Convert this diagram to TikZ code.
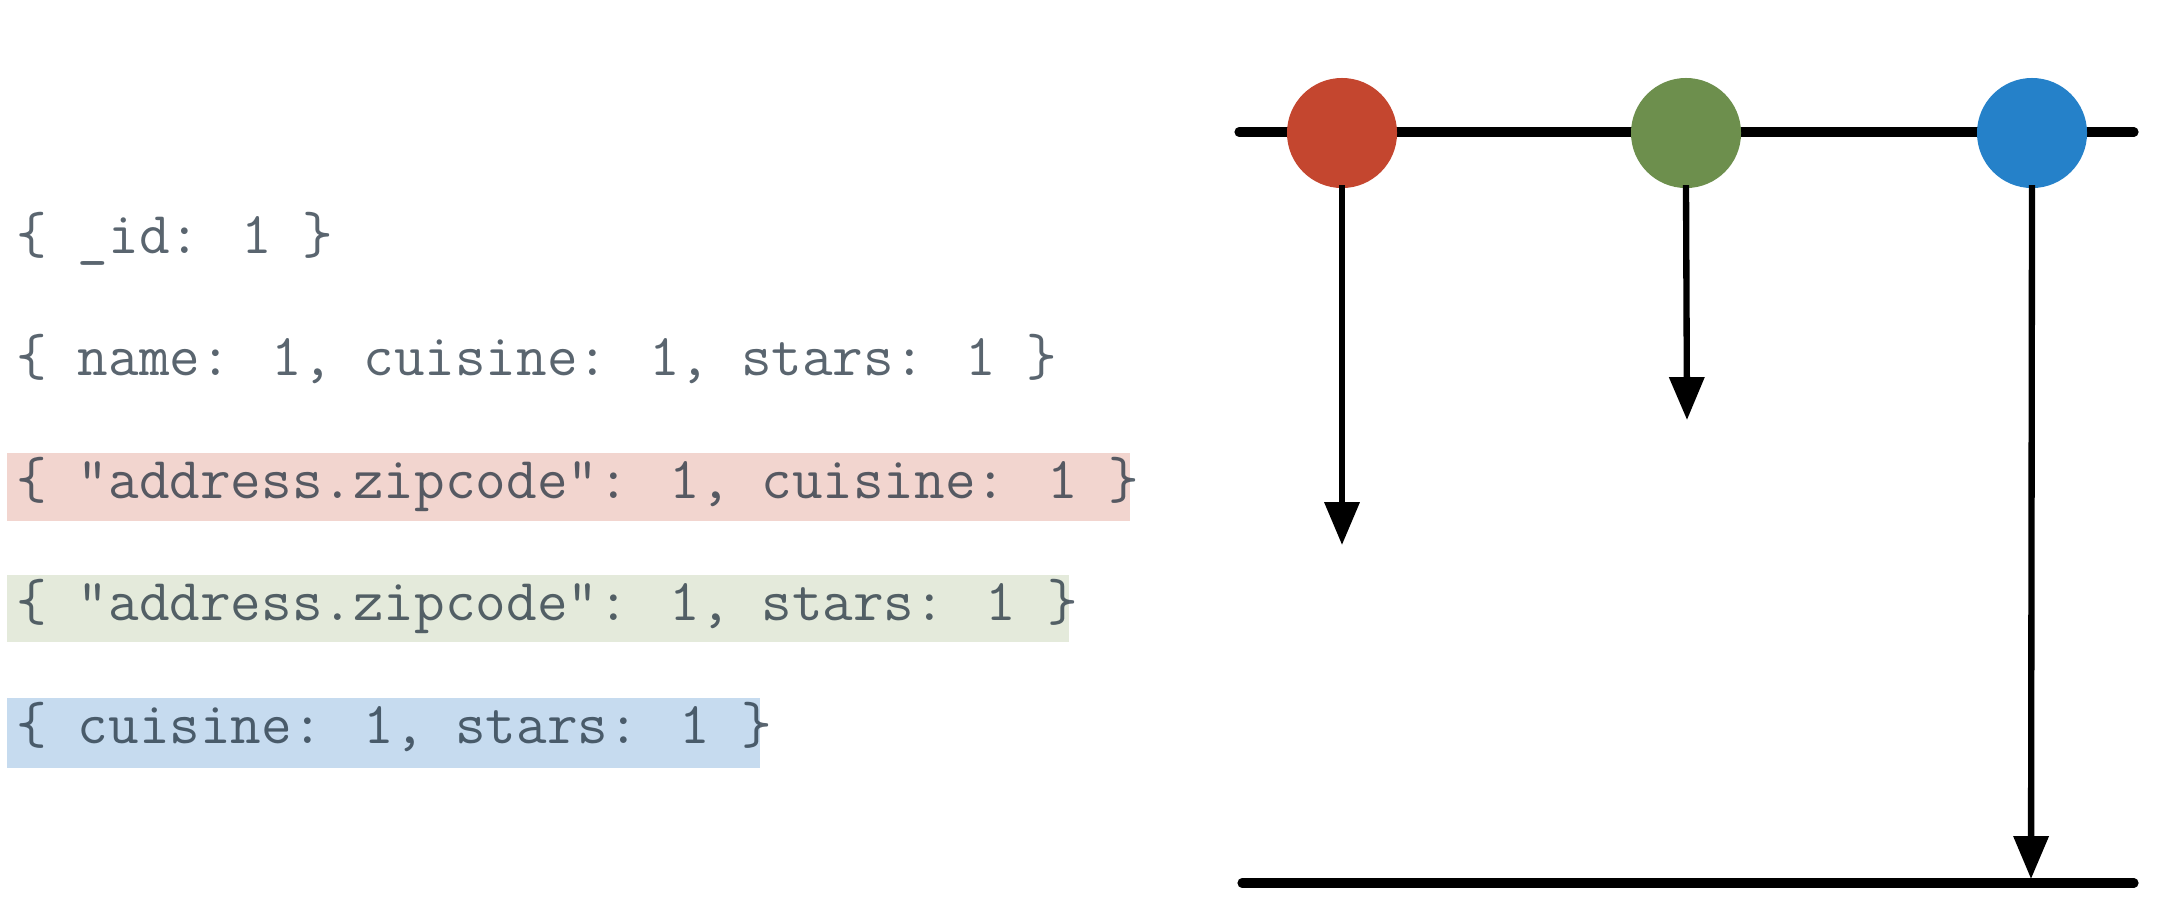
\documentclass[tikz,border=0pt]{standalone}
\usepackage{fontspec}
\usetikzlibrary{arrows.meta}
\definecolor{txtc}{HTML}{1A2A38}
\definecolor{boxred}{HTML}{F2D5CF}
\definecolor{boxgreen}{HTML}{E4EADB}
\definecolor{boxblue}{HTML}{C6DBEF}
\definecolor{cred}{HTML}{C4462F}
\definecolor{cgreen}{HTML}{6D8F4D}
\definecolor{cblue}{HTML}{2581C9}
\tikzset{
  code/.style={anchor=base west, inner sep=0pt, text=txtc, text opacity=0.72,
    font=\fontsize{16.9pt}{20pt}\selectfont\ttfamily},
  dot/.style={circle, minimum size=1.1cm, inner sep=0pt, draw=none},
  axis/.style={line width=2.6pt, line cap=round},
  drop/.style={line width=1.8pt, -{Triangle[length=12.2pt, width=9.7pt]}, shorten <=-1pt}
}
\begin{document}
\begin{tikzpicture}[x=0.01cm, y=-0.01cm]
\useasboundingbox (0,0) rectangle (2170,920);
% highlight boxes
\fill[boxred]   (7,453) rectangle (1130,521);
\fill[boxgreen] (7,575) rectangle (1069,642);
\fill[boxblue]  (7,698) rectangle (760,768);
% code lines
\node[code] (l1) at (16,253) {\{ \_id: 1 \}};
\node[code] (l2) at (16,375.5) {\{ name: 1, cuisine: 1, stars: 1 \}};
\node[code] (l3) at (16,498) {\{ "address.zipcode": 1, cuisine: 1 \}};
\node[code] (l4) at (16,620.5) {\{ "address.zipcode": 1, stars: 1 \}};
\node[code] (l5) at (16,743) {\{ cuisine: 1, stars: 1 \}};
% axes
\coordinate (tl) at (1239,132);
\coordinate (tr) at (2134,132);
\coordinate (bl) at (1242,883);
\coordinate (br) at (2134,883);
\draw[axis] (tl) -- (tr);
\draw[axis] (bl) -- (br);
% circles
\node[dot, fill=cred]   (r) at (1342,133) {};
\node[dot, fill=cgreen] (g) at (1686,133) {};
\node[dot, fill=cblue]  (b) at (2032,133) {};
% arrows
\coordinate (rt) at (1342,545);
\coordinate (gt) at (1687,420);
\coordinate (bt) at (2031,879);
\draw[drop] (r.south) -- (rt);
\draw[drop] (g.south) -- (gt);
\draw[drop] (b.south) -- (bt);
\end{tikzpicture}
\end{document}
